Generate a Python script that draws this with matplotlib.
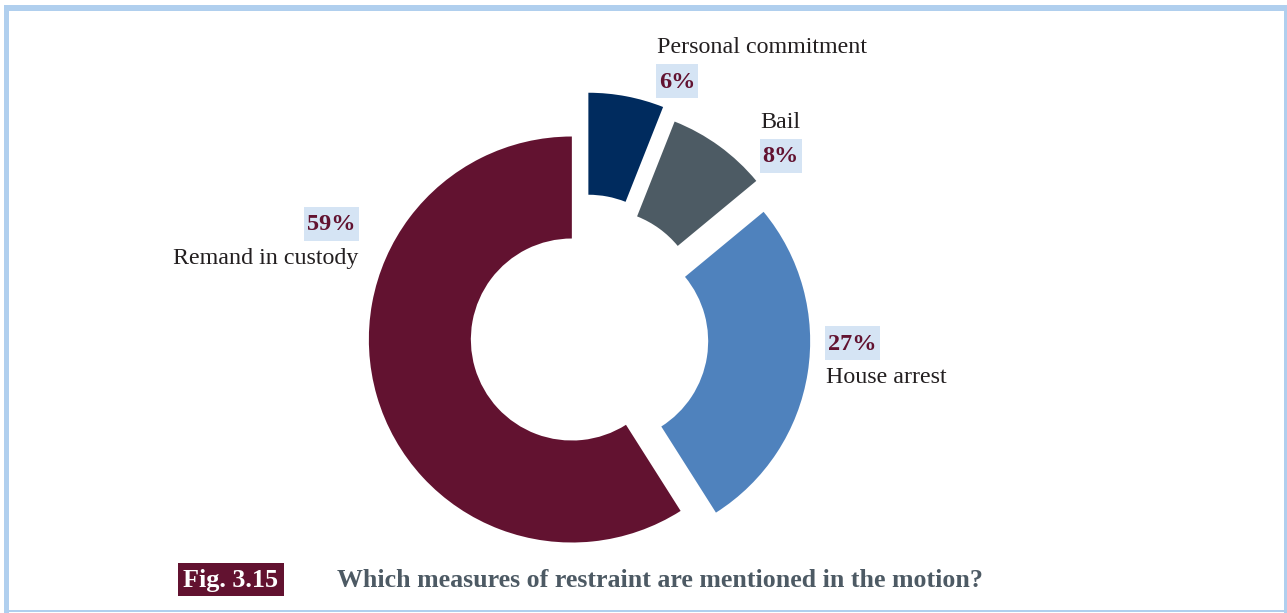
import matplotlib
matplotlib.use("Agg")
import matplotlib.pyplot as plt
from matplotlib.patches import Rectangle

W, H = 1287, 613

# restraint measures, clockwise from 12 o'clock
labels = ["Personal commitment", "Bail", "House arrest", "Remand in custody"]
shares = [6, 8, 27, 59]
colors = ["#002B5E", "#4D5B64", "#4F82BD", "#621230"]
explode = [42, 33, 27, 9]

MAROON = "#621230"
BOX = "#D5E4F4"
TXT = "#231F20"
FRAME = "#B0CFEE"

plt.rcParams["font.family"] = ["Liberation Serif", "DejaVu Serif"]

fig = plt.figure(figsize=(W / 100, H / 100), dpi=100)
ax = fig.add_axes([0, 0, 1, 1])

ax.pie(shares, colors=colors, explode=explode, startangle=90, counterclock=False,
       radius=203, center=(580.5, H - 337),
       wedgeprops=dict(width=102, linewidth=0))
ax.set_xlim(0, W)
ax.set_ylim(0, H)
ax.set_aspect("equal")
ax.axis("off")


def y(v):
    return H - v


def pct_box(cx, cy, value, w):
    ax.add_patch(Rectangle((cx - w / 2, y(cy) - 17), w, 34, fc=BOX, ec="none"))
    ax.text(cx, y(cy) - 1, f"{value}%", ha="center", va="center", fontsize=17.5,
            fontweight="bold", color=MAROON)


# category labels with their percentage boxes
ax.text(657, y(53), labels[0], ha="left", va="baseline", fontsize=17.3, color=TXT)
pct_box(677, 81, shares[0], 42)
ax.text(760, y(128), labels[1], ha="left", va="baseline", fontsize=17.3, color=TXT)
pct_box(780.5, 156, shares[1], 42)
pct_box(852.5, 343, shares[2], 55)
ax.text(826, y(383), labels[2], ha="left", va="baseline", fontsize=17.3, color=TXT)
pct_box(331.5, 224, shares[3], 55)
ax.text(358, y(264), labels[3], ha="right", va="baseline", fontsize=17.3, color=TXT)

# caption
ax.add_patch(Rectangle((178, y(595.5)), 106, 32.5, fc=MAROON, ec="none"))
ax.text(231, y(587), "Fig. 3.15", ha="center", va="baseline", fontsize=18.8,
        fontweight="bold", color="white")
ax.text(337, y(587), "Which measures of restraint are mentioned in the motion?",
        ha="left", va="baseline", fontsize=18.6, fontweight="bold", color="#4D5A64")

# page frame
ax.add_patch(Rectangle((4, y(10.5)), W - 4, 5.5, fc=FRAME, ec="none"))
ax.add_patch(Rectangle((4, 0), 5, y(5), fc=FRAME, ec="none"))
ax.add_patch(Rectangle((1284, 0), 3, y(5), fc=FRAME, ec="none"))
ax.add_patch(Rectangle((4, y(612)), W - 4, 2, fc=FRAME, ec="none"))

fig.savefig("out.png", dpi=100)
